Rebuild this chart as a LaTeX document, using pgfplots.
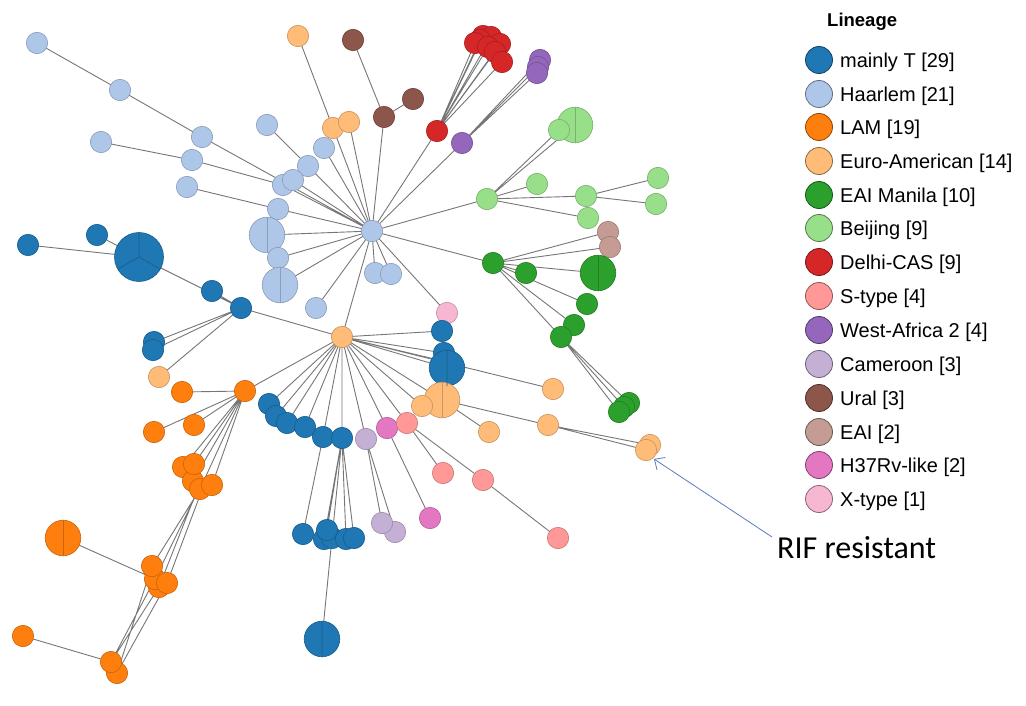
\documentclass[border=0pt]{standalone}
\usepackage{pgfplots}
\pgfplotsset{compat=1.18}
\usepackage{fontspec}
\setmainfont{Liberation Sans}
\newfontfamily\calibri{Carlito}
\usetikzlibrary{arrows.meta}

% lineage colours
\definecolor{cT}{HTML}{1F77B4}
\definecolor{cH}{HTML}{AEC7E8}
\definecolor{cL}{HTML}{FF7F0E}
\definecolor{cE}{HTML}{FFBB78}
\definecolor{cM}{HTML}{2CA02C}
\definecolor{cB}{HTML}{98DF8A}
\definecolor{cD}{HTML}{D62728}
\definecolor{cS}{HTML}{FF9896}
\definecolor{cW}{HTML}{9467BD}
\definecolor{cC}{HTML}{C5B0D5}
\definecolor{cU}{HTML}{8C564B}
\definecolor{cA}{HTML}{C49C94}
\definecolor{cR}{HTML}{E377C2}
\definecolor{cX}{HTML}{F7B6D2}
\definecolor{edge}{RGB}{118,118,118}
\definecolor{arrowblue}{RGB}{92,122,190}

\pgfplotsset{
  lin/.style={scatter, only marks, mark=*,
    scatter/use mapped color={draw=#1!78!black, fill=#1, line width=0.6pt},
    visualization depends on={\thisrow{r}\as\rad},
    scatter/@pre marker code/.append style={/tikz/mark size=\rad}},
  split/.style={no markers, draw=#1!80!black, line width=0.65pt, empty line=jump},
  key/.style={only marks, mark=*, mark size=13.5, color=#1,
    mark options={draw=#1!55!black, fill=#1, line width=0.8pt}},
}
\newcommand\legtxt{\fontsize{20}{24}\selectfont}

\begin{document}
\begin{tikzpicture}
\begin{axis}[
  width=1026pt, height=706pt, scale only axis,
  xmin=0, xmax=1026, ymin=0, ymax=706, y dir=reverse,
  hide axis, clip=false, clip marker paths=true,
]
% ---------------- edges of the spanning tree ----------------
\addplot[no markers, draw=edge, line width=0.9pt, empty line=jump] table {
x y
37 43
120 90

120 90
202 137

202 137
372 231

101 142
192 160

192 160
283 185

283 185
372 231

187 187
278 209

278 209
372 231

267 125
308 166

308 166
372 231

324 148
372 231

293 180
372 231

267 235
372 231

278 258
372 231

280 285
372 231

375 273
372 231

391 274
372 231

316 308
372 231

298 36
333 128

333 128
372 231

349 122
372 231

353 40
384 117

413 99
384 117

384 117
372 231

437 131
372 231

437 131
475 43

437 131
483 36

437 131
491 37

437 131
500 44

437 131
488 47

437 131
495 52

437 131
502 62

437 131
480 40

462 143
372 231

462 143
540 60

462 143
538 67

462 143
537 73

372 231
487 199

487 199
559 130

487 199
575 125

487 199
537 184

487 199
586 196

487 199
588 218

586 196
658 178

586 196
656 204

372 231
493 263

493 263
608 232

493 263
610 247

493 263
526 273

493 263
598 273

493 263
587 304

493 263
574 325

493 263
561 337

561 337
629 403

561 337
619 412

561 337
624 407

372 231
447 313

372 231
342 337

342 337
241 308

241 308
139 257

139 257
28 245

139 257
97 235

212 291
241 308

241 308
154 342

241 308
153 350

241 308
159 377

342 337
442 331

342 337
444 353

342 337
447 362

342 337
447 368

342 337
553 389

342 337
442 400

342 337
422 406

442 400
489 432

442 400
548 425

548 425
650 445

548 425
646 450

342 337
245 391

342 337
269 404

342 337
276 416

342 337
287 423

342 337
305 427

342 337
323 437

342 337
342 438

323 437
303 534

342 438
324 539

342 438
327 530

342 438
332 538

342 438
346 539

342 438
354 538

332 538
322 639

342 337
366 439

366 439
382 523

366 439
395 532

342 337
387 428

387 428
430 518

342 337
407 423

407 423
443 473

407 423
483 480

483 480
558 538

245 391
182 392

245 391
194 425

245 391
154 432

245 391
183 467

245 391
194 464

245 391
193 481

245 391
200 489

245 391
212 485

200 489
152 566

198 491
155 579

196 493
159 587

202 490
167 583

63 538
155 579

155 579
111 662

159 587
111 662

167 583
117 673

152 566
117 673

23 636
111 662
};

% ---------------- nodes, one table per lineage ----------------
% Haarlem
\addplot[lin=cH] table {
x y r
372 231 10.7
37 43 10.7
120 90 10.7
202 137 10.7
101 142 10.7
192 160 10.7
187 187 10.7
267 125 10.7
324 148 10.7
308 166 10.7
283 185 10.7
293 180 10.7
278 209 10.7
267 235 17.8
278 258 10.7
280 285 17.8
375 273 10.7
391 274 10.7
316 308 10.7
};
% Euro-American
\addplot[lin=cE] table {
x y r
298 36 10.7
333 128 10.7
349 122 10.7
159 377 10.7
342 337 10.7
553 389 10.7
489 432 10.7
548 425 10.7
650 445 10.7
646 450 10.7
};
% Ural
\addplot[lin=cU] table {
x y r
353 40 10.7
384 117 10.7
413 99 10.7
};
% Delhi-CAS
\addplot[lin=cD] table {
x y r
483 36 10.7
491 37 10.7
500 44 10.7
480 40 10.7
475 43 10.7
488 47 10.7
495 52 10.7
502 62 10.7
437 131 10.7
};
% West-Africa 2
\addplot[lin=cW] table {
x y r
540 60 10.7
538 67 10.7
537 73 10.7
462 143 10.7
};
% Beijing
\addplot[lin=cB] table {
x y r
575 125 17.8
559 130 10.7
487 199 10.7
537 184 10.7
586 196 10.7
588 218 10.7
658 178 10.7
656 204 10.7
};
% EAI
\addplot[lin=cA] table {
x y r
608 232 10.7
610 247 10.7
};
% EAI Manila
\addplot[lin=cM] table {
x y r
493 263 10.7
526 273 10.7
598 273 17.8
587 304 10.7
574 325 10.7
561 337 10.7
629 403 10.7
624 407 10.7
619 412 10.7
};
% X-type
\addplot[lin=cX] table {
x y r
447 313 10.7
};
% mainly T
\addplot[lin=cT] table {
x y r
28 245 10.7
97 235 10.7
139 257 24.5
212 291 10.7
241 308 10.7
154 342 10.7
153 350 10.7
442 331 10.7
444 353 10.7
447 368 17.8
269 404 10.7
276 416 10.7
287 423 10.7
305 427 10.7
323 437 10.7
342 438 10.7
303 534 10.7
324 539 10.7
332 538 10.7
327 530 10.7
346 539 10.7
354 538 10.7
322 639 17.8
};
% Euro-American nodes lying over mainly T
\addplot[lin=cE] table {
x y r
442 400 17.8
422 406 10.7
};
% LAM
\addplot[lin=cL] table {
x y r
245 391 10.7
182 392 10.7
194 425 10.7
154 432 10.7
183 467 10.7
193 481 10.7
200 489 10.7
212 485 10.7
194 464 10.7
63 538 17.8
159 587 10.7
155 579 10.7
167 583 10.7
152 566 10.7
23 636 10.7
117 673 10.7
111 662 10.7
};
% Cameroon
\addplot[lin=cC] table {
x y r
366 439 10.7
395 532 10.7
382 523 10.7
};
% H37Rv-like
\addplot[lin=cR] table {
x y r
387 428 10.7
430 518 10.7
};
% S-type
\addplot[lin=cS] table {
x y r
407 423 10.7
443 473 10.7
483 480 10.7
558 538 10.7
};

% ---------------- dividers of nodes holding several isolates ----------------
\addplot[split=cT] table {
x y
139 232.5
139 257
118 269
139 257
160 269

447 350
447 386

322 621
322 657
};
\addplot[split=cH] table {
x y
267 217
267 253

280 267
280 303
};
\addplot[split=cE] table {
x y
442 382
442 418
};
\addplot[split=cM] table {
x y
598 255
598 291
};
\addplot[split=cB] table {
x y
575 107
575 143
};
\addplot[split=cL] table {
x y
63 520
63 556
};

% ---------------- annotation ----------------
\addplot[no markers, draw=arrowblue, line width=0.8pt,
  -{Straight Barb[length=8pt,width=15pt]}] coordinates {(772,537) (654,459)};
\node[anchor=base west, font=\calibri\fontsize{32}{38}\selectfont, inner sep=0pt]
  at (axis cs:777,558) {RIF resistant};

% ---------------- legend ----------------
\node[anchor=base west, font=\bfseries\fontsize{18.5}{22}\selectfont, inner sep=0pt]
  at (axis cs:827,26.5) {Lineage};
\addplot[key=cT] coordinates {(819,60)};
\addplot[key=cH] coordinates {(819,94)};
\addplot[key=cL] coordinates {(819,127)};
\addplot[key=cE] coordinates {(819,161)};
\addplot[key=cM] coordinates {(819,195)};
\addplot[key=cB] coordinates {(819,228)};
\addplot[key=cD] coordinates {(819,262)};
\addplot[key=cS] coordinates {(819,296)};
\addplot[key=cW] coordinates {(819,330)};
\addplot[key=cC] coordinates {(819,364)};
\addplot[key=cU] coordinates {(819,398)};
\addplot[key=cA] coordinates {(819,432)};
\addplot[key=cR] coordinates {(819,465)};
\addplot[key=cX] coordinates {(819,499)};
\begin{scope}[every node/.style={anchor=base west, inner sep=0pt, font=\legtxt}]
\node at (axis cs:840,67.5) {mainly T [29]};
\node at (axis cs:840,101.5) {Haarlem [21]};
\node at (axis cs:840,134.5) {LAM [19]};
\node at (axis cs:840,168.5) {Euro-American [14]};
\node at (axis cs:840,202.5) {EAI Manila [10]};
\node at (axis cs:840,235.5) {Beijing [9]};
\node at (axis cs:840,269.5) {Delhi-CAS [9]};
\node at (axis cs:840,303.5) {S-type [4]};
\node at (axis cs:840,337.5) {West-Africa 2 [4]};
\node at (axis cs:840,371.5) {Cameroon [3]};
\node at (axis cs:840,405.5) {Ural [3]};
\node at (axis cs:840,439.5) {EAI [2]};
\node at (axis cs:840,472.5) {H37Rv-like [2]};
\node at (axis cs:840,506.5) {X-type [1]};
\end{scope}
\end{axis}
\path (current axis.south west) rectangle (current axis.north east);
\end{tikzpicture}
\end{document}
